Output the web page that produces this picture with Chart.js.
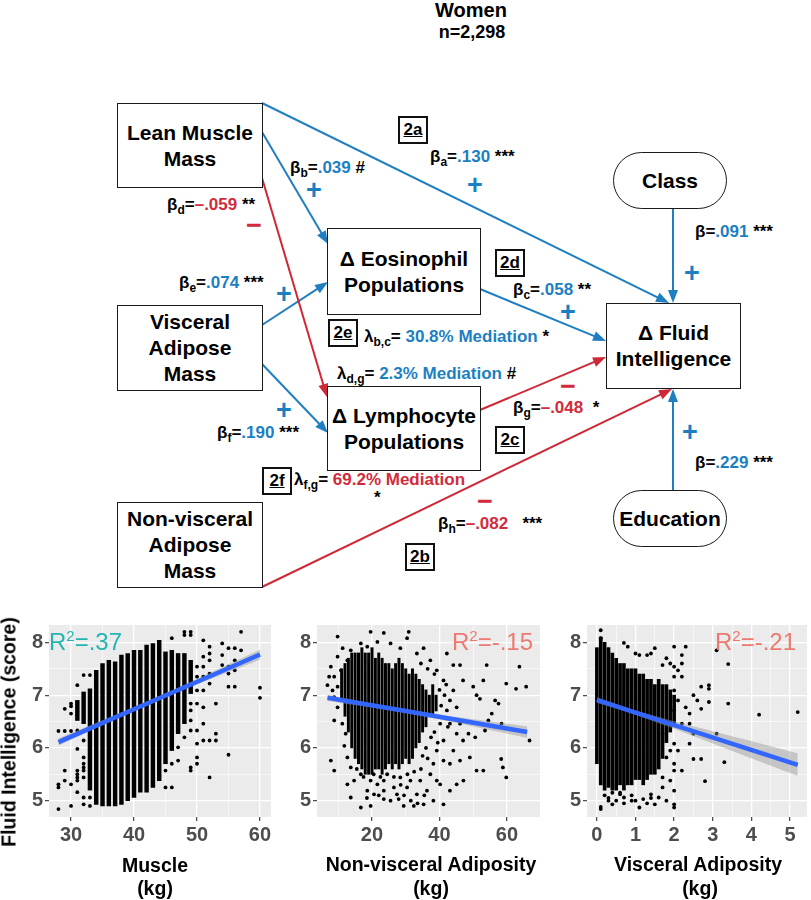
<!DOCTYPE html>
<html>
<head>
<meta charset="utf-8">
<script src="https://cdn.jsdelivr.net/npm/chart.js@4.4.1/dist/chart.umd.min.js"></script>
<style>
  html,body{margin:0;padding:0;background:#fff;}
  #wrap{position:relative;width:811px;height:900px;overflow:hidden;font-family:"Liberation Sans",Arial,Helvetica,sans-serif;color:#000;}
  .box{position:absolute;box-sizing:border-box;border:1.5px solid #1a1a1a;display:flex;align-items:center;justify-content:center;text-align:center;font-weight:bold;font-size:21px;line-height:26px;background:#fff;}
  .pill{border-radius:29px;}
  .lbl{position:absolute;white-space:nowrap;font-weight:bold;font-size:17px;line-height:20px;}
  .lbl sub{font-size:12px;vertical-align:-4px;line-height:0;}
  .bl{color:#1c7fc2;}
  .rd{color:#d22b3b;}
  .sign{position:absolute;font-weight:bold;font-size:27px;line-height:27px;transform:translate(-50%,-50%);}
  .tag{position:absolute;box-sizing:border-box;width:30px;height:28px;border:2px solid #111;font-weight:bold;font-size:17px;line-height:24px;text-align:center;text-decoration:underline;}
  .ttl{position:absolute;white-space:nowrap;font-weight:bold;transform:translate(-50%,-50%);}
  .r2{position:absolute;white-space:nowrap;font-size:24px;line-height:24px;}
  .r2 sup{font-size:15px;vertical-align:9px;line-height:0;}
  canvas{position:absolute;}
</style>
</head>
<body>
<div id="wrap">
  <svg id="arrows" width="811" height="600" style="position:absolute;left:0;top:0"></svg>

  <div class="ttl" style="left:471px;top:10px;font-size:20px;">Women</div>
  <div class="ttl" style="left:472px;top:32px;font-size:18px;">n=2,298</div>

  <div class="box" style="left:117px;top:103px;width:146px;height:85px;">Lean Muscle<br>Mass</div>
  <div class="box" style="left:117px;top:305px;width:146px;height:86px;">Visceral<br>Adipose<br>Mass</div>
  <div class="box" style="left:117px;top:502px;width:146px;height:86px;">Non-visceral<br>Adipose<br>Mass</div>
  <div class="box" style="left:327px;top:228px;width:154px;height:87px;">Δ Eosinophil<br>Populations</div>
  <div class="box" style="left:327px;top:386px;width:154px;height:85px;">Δ Lymphocyte<br>Populations</div>
  <div class="box" style="left:606px;top:303px;width:135px;height:86px;">Δ Fluid<br>Intelligence</div>
  <div class="box pill" style="left:613px;top:152px;width:114px;height:57px;">Class</div>
  <div class="box pill" style="left:613px;top:490px;width:114px;height:57px;">Education</div>

  <div class="tag" style="left:398px;top:116px;">2a</div>
  <div class="tag" style="left:495px;top:249px;">2d</div>
  <div class="tag" style="left:328px;top:319px;">2e</div>
  <div class="tag" style="left:495px;top:426px;">2c</div>
  <div class="tag" style="left:262px;top:467px;">2f</div>
  <div class="tag" style="left:405px;top:543px;">2b</div>

  <div class="lbl" style="left:430px;top:147px;">β<sub>a</sub>=<span class="bl">.130</span> ***</div>
  <div class="sign bl" style="left:475px;top:185px;">+</div>
  <div class="lbl" style="left:290px;top:158px;">β<sub>b</sub>=<span class="bl">.039</span> #</div>
  <div class="sign bl" style="left:314px;top:190px;">+</div>
  <div class="lbl" style="left:167px;top:195px;">β<sub>d</sub>=<span class="rd">–.059</span> **</div>
  <div class="sign rd" style="left:254px;top:225px;">−</div>
  <div class="lbl" style="left:179px;top:273px;">β<sub>e</sub>=<span class="bl">.074</span> ***</div>
  <div class="sign bl" style="left:284px;top:294px;">+</div>
  <div class="lbl" style="left:513px;top:280px;">β<sub>c</sub>=<span class="bl">.058</span> **</div>
  <div class="sign bl" style="left:568px;top:312px;">+</div>
  <div class="lbl" style="left:364px;top:327px;">λ<sub>b,c</sub>= <span class="bl">30.8% Mediation</span> *</div>
  <div class="lbl" style="left:337px;top:364px;">λ<sub>d,g</sub>= <span class="bl">2.3% Mediation</span> #</div>
  <div class="lbl" style="left:513px;top:398px;">β<sub>g</sub>=<span class="rd">–.048</span>&nbsp; *</div>
  <div class="sign rd" style="left:568px;top:386px;">−</div>
  <div class="lbl" style="left:217px;top:423px;">β<sub>f</sub>=<span class="bl">.190</span> ***</div>
  <div class="sign bl" style="left:284px;top:410px;">+</div>
  <div class="lbl" style="left:294px;top:470px;">λ<sub>f,g</sub>= <span class="rd">69.2% Mediation</span></div>
  <div class="lbl" style="left:374px;top:488px;">*</div>
  <div class="lbl" style="left:438px;top:514px;">β<sub>h</sub>=<span class="rd">–.082</span>&nbsp;&nbsp; ***</div>
  <div class="sign rd" style="left:485px;top:501px;">−</div>
  <div class="lbl" style="left:695px;top:222px;">β=<span class="bl">.091</span> ***</div>
  <div class="sign bl" style="left:692px;top:273px;">+</div>
  <div class="lbl" style="left:695px;top:453px;">β=<span class="bl">.229</span> ***</div>
  <div class="sign bl" style="left:690px;top:432px;">+</div>

  <canvas id="c1" width="280" height="300" style="left:0;top:600px;"></canvas>
  <canvas id="c2" width="265" height="300" style="left:280px;top:600px;"></canvas>
  <canvas id="c3" width="266" height="300" style="left:545px;top:600px;"></canvas>

  <div class="r2" style="left:49px;top:630px;color:#22b5b2;">R<sup>2</sup>=.37</div>
  <div class="r2" style="left:452px;top:630px;color:#ec7a70;">R<sup>2</sup>=-.15</div>
  <div class="r2" style="left:715px;top:630px;color:#ec7a70;">R<sup>2</sup>=-.21</div>

  <div class="ttl" style="left:9px;top:732px;font-size:19.5px;transform:translate(-50%,-50%) rotate(-90deg);">Fluid Intelligence (score)</div>
  <div class="ttl" style="left:155px;top:865px;font-size:19.5px;">Muscle</div>
  <div class="ttl" style="left:155px;top:888px;font-size:19.5px;">(kg)</div>
  <div class="ttl" style="left:431px;top:864px;font-size:19.5px;">Non-visceral Adiposity</div>
  <div class="ttl" style="left:431px;top:888px;font-size:19.5px;">(kg)</div>
  <div class="ttl" style="left:698px;top:864px;font-size:19.5px;">Visceral Adiposity</div>
  <div class="ttl" style="left:700px;top:888px;font-size:19.5px;">(kg)</div>
</div>

<script>
// ---------------- DATA ----------------
const fiTicks = [5, 6, 7, 8];            // Fluid intelligence score ticks
const fiRange = [4.69, 8.33];

// Panel 1: Muscle (kg)
const muscleTicks = [30, 40, 50, 60];
const muscleRange = [26.5, 61.75];
const muscleStripeX  = [31,32,33,34,35,36,37,38,39,40,41,42,43,44,45,46,47,48,49];
const muscleStripeLo = [6.52,6.46,5.20,4.93,4.90,4.90,4.90,4.93,5.00,5.06,5.16,5.16,5.25,5.38,5.70,5.95,6.27,6.46,7.03];
const muscleStripeHi = [6.90,7.06,7.12,7.47,7.60,7.66,7.63,7.76,7.79,7.85,7.85,7.95,7.98,8.04,7.82,7.85,7.79,7.79,7.66];
const musclePoints = [
  [28,6.32],[28,5.31],[28,5.25],[28,4.84],
  [29,6.74],[29,6.32],[29,5.57],[29,5.38],
  [30,6.84],[30,6.79],[30,6.65],[30,6.32],[30,5.31],[30,4.90],
  [31,7.19],[31,6.33],[31,5.98],[31,5.57],[31,5.50],[31,5.44],[31,5.38],[31,5.16],
  [32,7.38],[32,6.14],[32,5.82],[32,5.70],[32,5.63],[32,5.57],[32,5.44],[32,5.06],[32,4.93],
  [33,7.38],[33,5.06],[33,4.90],
  [45,5.57],[45,5.25],
  [46,8.08],[46,5.70],[46,5.25],
  [47,6.01],[47,5.76],
  [48,8.20],[48,8.14],[48,6.20],
  [49,8.20],[49,8.14],[49,6.84],[49,6.71],[49,6.52],[49,6.33],[49,5.63],[49,5.57],
  [50,7.54],[50,7.35],[50,7.09],[50,6.84],[50,6.33],[50,6.08],[50,5.82],[50,5.70],
  [51,8.04],[51,7.73],[51,7.54],[51,7.35],[51,7.09],[51,6.77],[51,6.46],[51,6.14],
  [52,7.92],[52,7.79],[52,7.66],[52,7.41],[52,7.22],[52,6.14],[52,5.44],
  [53,6.84],[53,6.27],[53,6.14],
  [54,7.98],[54,7.76],[54,7.57],
  [55,7.89],[55,7.54],[55,7.41],[55,7.16],[55,5.87],
  [56,7.89],[56,7.66],[56,7.47],[56,7.16],
  [57,8.20],[57,7.85],
  [60,7.14],[60,6.95]
];
const muscleFitX   = [28, 43, 60];
const muscleFitY   = [6.11, 6.89, 7.77];
const muscleBandLo = [6.04, 6.86, 7.67];
const muscleBandHi = [6.18, 6.93, 7.86];

// Panel 2: Non-visceral adiposity (kg)
const nonvTicks = [20, 40, 60];
const nonvRange = [3.7, 69.8];
const nonvStripeX  = [11,12,13,14,15,16,17,18,19,20,21,22,23,24,25,26,27,28,29,30,31,32,33,34,35,36,37,38,39];
const nonvStripeLo = [6.9,6.6,6.3,6.0,5.8,5.7,5.6,5.5,5.5,5.5,5.6,5.6,5.5,5.6,5.7,5.6,5.7,5.6,5.7,5.8,5.7,5.8,6.0,6.1,6.3,6.4,6.6,6.6,6.7];
const nonvStripeHi = [7.5,7.6,7.7,7.8,7.8,7.8,7.9,7.8,7.8,7.9,7.7,7.8,7.7,7.6,7.6,7.5,7.6,7.7,7.6,7.5,7.4,7.5,7.4,7.3,7.2,7.1,7.0,7.2,7.0];
const nonvPoints = [
  [9.8,8.11],[19.6,8.20],[23.5,8.18],[30.4,8.08],[30.9,8.20],[11.3,7.89],[16.7,7.98],[35.3,7.89],
  [42.2,7.79],[44.1,7.57],[46.1,7.57],[54,7.57],[53,7.28],[47,7.28],[50,7.16],[51,7.0],[52,6.93],
  [56.5,6.9],[57.5,6.84],[59.8,7.22],[63.7,7.54],[62.7,7.12],[65.7,7.16],[66.7,6.14],[58.4,6.46],
  [55.5,6.65],[54.5,6.52],[53.5,6.33],[48.6,6.27],[50.6,6.20],[46.1,6.46],[45.1,6.77],[47,6.14],
  [7.8,5.76],[8.8,5.57],[8.8,6.52],[6.8,7.19],[11.8,6.04],[12.7,5.31],[16.7,5.50],[13.7,5.06],
  [16.7,4.87],[19.6,4.90],[23.5,5.03],[27.4,5.12],[29.4,4.90],[32.4,4.90],[35.3,4.93],[38.2,5.00],
  [41.2,4.93],[43.1,5.19],[45.1,5.31],[47.1,5.38],[51,5.57],[53,5.57],[59.8,5.44],[58.3,5.79],
  [58.8,5.63],[46.1,5.76],[49,5.82],[43.1,5.70],[39.2,5.38],[36.3,5.19],[33.3,5.12],[30.4,5.25],
  [26.5,5.25],[23.5,5.19],[21.6,5.31],[18.6,5.19],[14.7,5.38],[13.7,5.63],[12.7,5.82],[12.2,6.27],
  [11.2,6.46],[9.8,6.77],[8.8,6.96],[7.8,7.54],[8.8,7.35],[8.3,7.09],[9.8,7.16],
  [40.2,6.46],[41.2,6.14],[42.2,6.71],[43.1,6.90],[39.2,5.95],[38.2,5.70],[37.3,5.50],[34.3,5.38],
  [31.4,5.38],[28.4,5.44],[23.5,5.38],[19.6,5.38],[20.6,5.12],[25.5,5.00],[27.9,5.03],[40.2,5.31],
  [41.2,5.76],[44.1,5.95],[45.1,6.27],[43.1,6.46],[44.1,7.09],[41.2,7.28],[39.2,7.47],[37.3,7.66],
  [33.3,7.79],[28.4,7.89],[25.5,7.98],[21.6,8.01],[18.6,7.92],[13.7,7.85],[12.7,7.66],[9.8,7.73],
  [10.8,7.47],[7.3,7.35],
  [15.5,5.60],[17.5,5.45],[20.5,5.50],[22.5,5.45],[24.5,5.50],[26.5,5.45],[28.5,5.30],[30.5,5.50],
  [32.5,5.55],[34.5,5.60],[36.5,5.80],[18.5,5.05],[22,5.10],[29.5,5.10],[31.5,5.00],[33.5,4.95],[35.5,5.10],
  [38.5,6.30],[39.5,6.10],[40.5,6.80],[41.5,7.00],[42.5,6.40],[38.5,7.40],[36.5,7.50],[34.5,7.60],
  [36.0,6.00],[37.5,6.20],[35.0,5.85],[40.0,7.10],[42.0,7.20]
];
const nonvFitX   = [6.8, 30, 66];
const nonvFitY   = [6.95, 6.70, 6.30];
const nonvBandLo = [6.89, 6.66, 6.19];
const nonvBandHi = [7.01, 6.73, 6.41];

// Panel 3: Visceral adiposity (kg)
const viscTicks = [0, 1, 2, 3, 4, 5];
const viscRange = [-0.256, 5.44];
const viscStripeX  = [0,0.1,0.2,0.3,0.4,0.5,0.6,0.7,0.8,0.9,1.0,1.1,1.2,1.3,1.4,1.5,1.6,1.7,1.8,1.9,2.0];
const viscStripeLo = [5.70,5.30,5.20,5.25,5.20,5.20,5.30,5.20,5.30,5.30,5.40,5.40,5.30,5.40,5.50,5.50,5.60,5.80,6.10,6.30,6.40];
const viscStripeHi = [7.90,8.10,8.00,7.90,7.80,7.70,7.60,7.60,7.50,7.50,7.50,7.40,7.40,7.30,7.30,7.20,7.30,7.20,7.20,7.10,7.00];
const viscPoints = [
  [0.1,8.23],[0.1,8.08],[0.1,4.88],[0.1,4.84],[0.4,4.93],[0.7,7.99],[0.8,7.92],[1.0,7.79],[1.1,7.76],
  [1.3,7.76],[1.4,7.79],[1.5,7.89],[1.8,7.70],[2.0,7.92],[2.3,7.92],[2.2,7.76],[2.2,7.60],[3.1,7.85],
  [3.4,7.59],[3.4,6.84],[4.2,6.63],[5.2,6.68],[2.7,7.16],[2.9,7.19],[2.9,7.12],[2.9,6.87],[2.7,6.74],
  [2.5,7.00],[2.6,6.90],[2.3,6.77],[2.4,6.65],[2.2,6.46],[3.1,6.27],[2.5,6.27],[2.4,6.08],[2.5,5.79],
  [2.7,5.79],[3.3,5.73],[2.8,5.37],[2.0,5.70],[2.0,5.57],[2.1,5.95],[2.0,6.08],[1.9,5.38],[2.0,5.19],
  [2.0,4.87],[2.0,4.93],[1.8,5.00],[1.6,5.06],[1.5,4.93],[1.4,5.12],[1.2,5.03],[1.1,4.87],[0.9,5.00],
  [0.7,5.06],[0.6,5.12],[0.3,5.00],[1.7,5.25],[1.7,5.44],[1.8,5.82],[1.9,5.95],[2.2,5.57],[1.7,6.27],
  [1.9,6.52],[2.0,6.71],[2.1,6.90],[2.0,7.09],[2.0,7.35],[2.0,7.54],[1.9,7.60],[1.7,7.57],[2.4,6.46],
  [2.2,7.35],[2.1,7.47],
  [0.3,5.05],[0.5,5.00],[0.6,5.15],[0.9,5.10],[1.0,5.00],[1.3,4.95],[1.4,5.05],[0.2,5.10],[0.4,5.15],[0.7,4.95]
];
const viscFitX   = [0, 1.0, 5.2];
const viscFitY   = [6.91, 6.67, 5.68];
const viscBandLo = [6.85, 6.63, 5.47];
const viscBandHi = [6.96, 6.71, 5.90];

// ---------------- DIAGRAM ARROWS (layout) ----------------
const BLUE = '#1f7fc1', RED = '#cf2837';
const arrowsSpec = [
  [262,103,669,303,BLUE],[262,132,328,244,BLUE],[262,325,328,282,BLUE],[262,364,328,433,BLUE],
  [480,289,606,341,BLUE],[673,209,673,303,BLUE],[673,547,673,389,BLUE],
  [262,178,327,397,RED],[480,410,606,357,RED],[262,587,672,389,RED]
];
(function drawArrows(){
  const svg = document.getElementById('arrows');
  const NS = 'http://www.w3.org/2000/svg';
  arrowsSpec.forEach(([x1,y1,x2,y2,c])=>{
    const dx=x2-x1, dy=y2-y1, L=Math.hypot(dx,dy), ux=dx/L, uy=dy/L;
    const hl=13, hw=5;
    const bx=x2-ux*hl, by=y2-uy*hl;
    const ln=document.createElementNS(NS,'line');
    ln.setAttribute('x1',x1); ln.setAttribute('y1',y1);
    ln.setAttribute('x2',x2-ux*(hl-3)); ln.setAttribute('y2',y2-uy*(hl-3));
    ln.setAttribute('stroke',c); ln.setAttribute('stroke-width','2');
    svg.appendChild(ln);
    const p=document.createElementNS(NS,'polygon');
    p.setAttribute('points',`${x2},${y2} ${bx-uy*hw},${by+ux*hw} ${bx+uy*hw},${by-ux*hw}`);
    p.setAttribute('fill',c);
    svg.appendChild(p);
  });
})();

// ---------------- CHARTS ----------------
const FONT = '"Liberation Sans", Arial, Helvetica, sans-serif';
const panelBg = {
  id: 'panelBg',
  beforeDraw(chart){
    const {ctx, chartArea:a} = chart;
    ctx.save(); ctx.fillStyle = '#EBEBEB';
    ctx.fillRect(a.left, a.top, a.right-a.left, a.bottom-a.top);
    ctx.restore();
  }
};

function gridValues(majors, min, max){
  const step = majors[1]-majors[0];
  const out = [];
  for (let v = majors[0]-step; v <= majors[majors.length-1]+step+1e-9; v += step/2){
    const r = Math.round(v*1000)/1000;
    if (r >= min && r <= max) out.push(r);
  }
  return out;
}

function axis(majors, range, fitProp, fitVal){
  const vals = gridValues(majors, range[0], range[1]);
  const isMajor = v => majors.some(m => Math.abs(m - v) < 1e-6);
  return {
    type: 'linear', min: range[0], max: range[1], offset: false,
    afterBuildTicks: s => { s.ticks = vals.map(v => ({value: v})); },
    afterFit: s => { s[fitProp] = fitVal; },
    border: {display: false},
    grid: {
      offset: false,
      color: '#ffffff',
      lineWidth: c => (c.tick && isMajor(c.tick.value)) ? 1.3 : 0.6,
      tickColor: c => (c.tick && isMajor(c.tick.value)) ? '#444' : 'rgba(0,0,0,0)',
      tickLength: 4,
      tickWidth: 1.2
    },
    ticks: {
      autoSkip: false, maxRotation: 0, padding: 2,
      color: '#4d4d4d',
      font: {family: FONT, size: 20, weight: 'bold'},
      callback: v => isMajor(v) ? String(v) : ''
    }
  };
}

function makePanel(id, p){
  const xy = (xs, ys) => xs.map((x,i) => ({x, y: ys[i]}));
  new Chart(document.getElementById(id), {
    type: 'scatter',
    data: {
      datasets: [
        {type:'line', data: xy(p.fitX, p.fitY), borderColor:'#3366FF', borderWidth:4.5,
         pointRadius:0, showLine:true, fill:false, tension:0, order:0},
        {type:'line', data: xy(p.fitX, p.bandLo), borderWidth:0, borderColor:'rgba(0,0,0,0)',
         pointRadius:0, showLine:true, fill:false, tension:0.4, order:1},
        {type:'line', data: xy(p.fitX, p.bandHi), borderWidth:0, borderColor:'rgba(0,0,0,0)',
         pointRadius:0, showLine:true, fill:'-1', backgroundColor:'rgba(150,150,150,0.45)', tension:0.4, order:1},
        {type:'scatter', data: p.points.map(([x,y]) => ({x,y})), pointRadius:1.9,
         pointBackgroundColor:'#000', pointBorderWidth:0, order:2},
        {type:'bar', data: p.stripeX.map((x,i) => ({x, y:[p.stripeLo[i], p.stripeHi[i]]})),
         backgroundColor:'#000', barThickness:p.barW, order:3}
      ]
    },
    options: {
      responsive: false, animation: false, devicePixelRatio: 1,
      layout: {padding: {left: 0, top: p.padTop, right: p.padRight, bottom: 0}},
      plugins: {legend: {display: false}, tooltip: {enabled: false}},
      scales: {
        x: axis(p.xTicks, p.xRange, 'height', p.xH),
        y: axis(fiTicks, fiRange, 'width', p.yW)
      }
    },
    plugins: [panelBg]
  });
}

makePanel('c1', {fitX:muscleFitX, fitY:muscleFitY, bandLo:muscleBandLo, bandHi:muscleBandHi,
  points:musclePoints, stripeX:muscleStripeX, stripeLo:muscleStripeLo, stripeHi:muscleStripeHi,
  barW:3.8, xTicks:muscleTicks, xRange:muscleRange, padTop:25, padRight:9, xH:83, yW:49});
makePanel('c2', {fitX:nonvFitX, fitY:nonvFitY, bandLo:nonvBandLo, bandHi:nonvBandHi,
  points:nonvPoints, stripeX:nonvStripeX, stripeLo:nonvStripeLo, stripeHi:nonvStripeHi,
  barW:2.3, xTicks:nonvTicks, xRange:nonvRange, padTop:25, padRight:5, xH:83, yW:37});
makePanel('c3', {fitX:viscFitX, fitY:viscFitY, bandLo:viscBandLo, bandHi:viscBandHi,
  points:viscPoints, stripeX:viscStripeX, stripeLo:viscStripeLo, stripeHi:viscStripeHi,
  barW:3, xTicks:viscTicks, xRange:viscRange, padTop:25, padRight:2, xH:83, yW:42});
</script>
</body>
</html>
